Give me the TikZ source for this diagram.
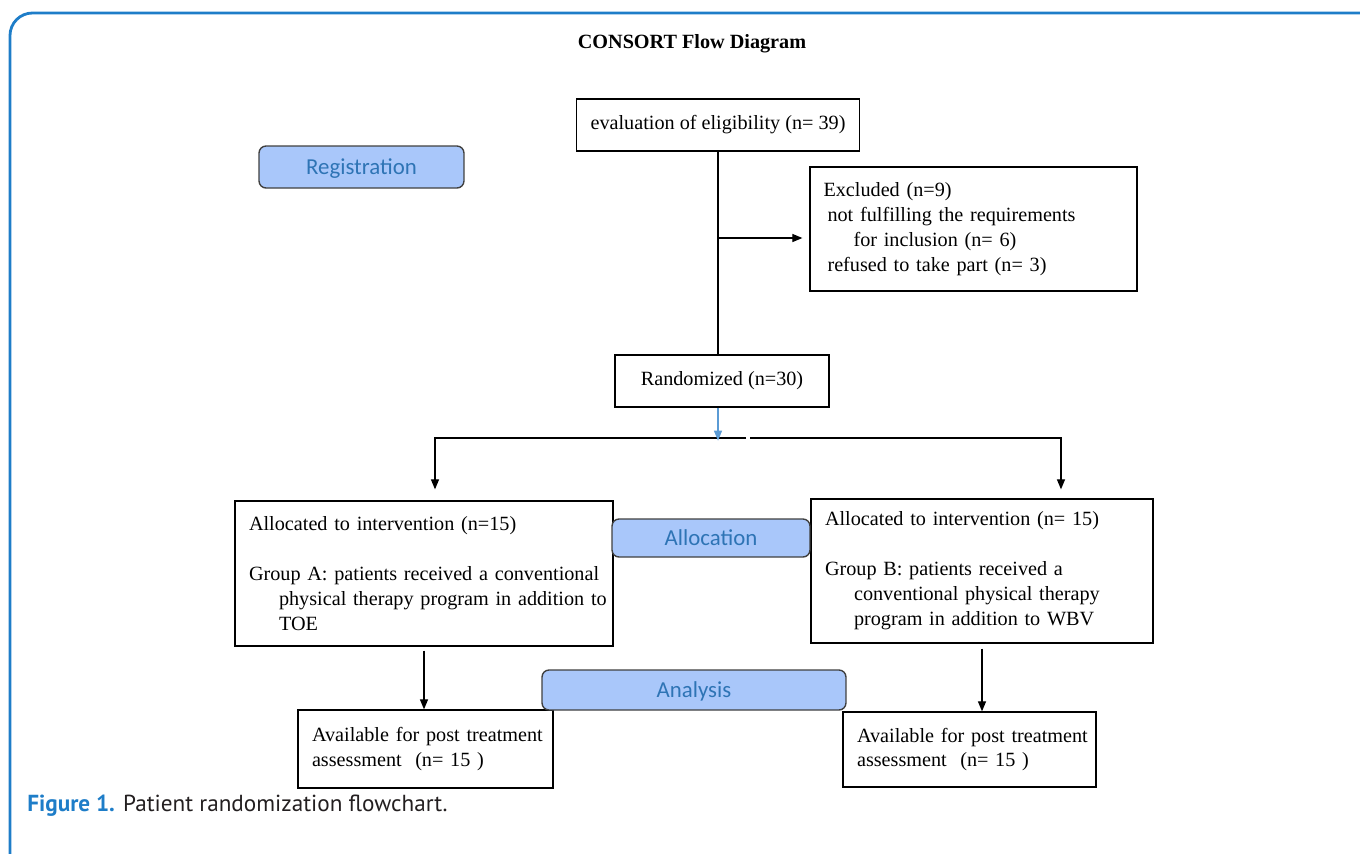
\documentclass[tikz,border=0pt]{standalone}
\usepackage{fontspec}
\setmainfont{Liberation Serif}
\newfontfamily\tagfont{Carlito}
\newfontfamily\capfont{PT Sans}
\usetikzlibrary{arrows.meta}
\definecolor{framecol}{RGB}{30,125,200}
\definecolor{tagfill}{RGB}{169,199,250}
\definecolor{tagtext}{RGB}{46,116,181}
\definecolor{tagedge}{RGB}{64,64,64}
\definecolor{arrowblue}{RGB}{91,155,213}
\definecolor{captext}{RGB}{35,31,32}
\begin{document}
\begin{tikzpicture}[x=0.02cm,y=-0.02cm,
    box/.style={draw=black,line width=0.75pt,inner sep=0pt,font=\fontsize{11.5}{14.2}\selectfont},
    tag/.style={draw=tagedge,fill=tagfill,line width=0.8pt,rounded corners=4pt,text depth=0pt,text=tagtext,font=\tagfont\fontsize{13}{15}\selectfont},
    >={Triangle[length=0.2cm,width=0.16cm]}]
    \useasboundingbox (0,0) rectangle (1360,853);
    \clip (0,0) rectangle (1360,853);
    \draw[framecol,line width=1.6pt,rounded corners=0.45cm] (10,13) rectangle (1400,890);
    \node[font=\bfseries\fontsize{11.5}{13}\selectfont] (title) at (692,44) {CONSORT Flow Diagram};
    % boxes
    \node[box,minimum width=5.66cm,minimum height=1.04cm] (eval) at (718,125) {evaluation of eligibility (n= 39)};
    \node[box,minimum width=6.54cm,minimum height=2.48cm,text width=6.0cm,align=left] (excl) at (973.5,229)
        {Excluded (n=9)\\ \hspace*{0.08cm}\mbox{not fulfilling the requirements}\\ \hspace*{0.6cm}\mbox{for inclusion (n= 6)}\\ \hspace*{0.08cm}\mbox{refused to take part (n= 3)}};
    \node[box,minimum width=4.28cm,minimum height=1.04cm] (rand) at (722,381) {Randomized (n=30)};
    \node[box,minimum width=7.56cm,minimum height=2.9cm,text width=7.0cm,align=left] (allocA) at (424,573.5)
        {\mbox{Allocated to intervention (n=15)}\\[14.2pt] \mbox{Group A: patients received a conventional}\\ \hspace*{0.6cm}\mbox{physical therapy program in addition to}\\ \hspace*{0.6cm}TOE};
    \node[box,minimum width=6.84cm,minimum height=2.88cm,text width=6.28cm,align=left] (allocB) at (982,571)
        {\mbox{Allocated to intervention (n= 15)}\\[14.2pt] \mbox{Group B: patients received a}\\ \hspace*{0.58cm}\mbox{conventional physical therapy}\\ \hspace*{0.58cm}\mbox{program in addition to WBV}};
    \node[box,minimum width=5.1cm,minimum height=1.56cm,text width=4.54cm,align=left] (postA) at (425.5,749)
        {\mbox{Available for post treatment}\\ \mbox{assessment\ \ (n= 15 )}};
    \node[box,minimum width=5.06cm,minimum height=1.5cm,text width=4.5cm,align=left] (postB) at (969.5,749.5)
        {\mbox{Available for post treatment}\\ \mbox{assessment\ \ (n= 15 )}};
    % connectors
    \coordinate (forkL) at (746,438);
    \coordinate (forkR) at (750,438);
    \draw[line width=0.7pt] (eval.south) -- (eval.south |- rand.north);
    \draw[line width=0.7pt,->,shorten >=0.14cm] (eval.south |- 0,238) -- (excl.west |- 0,238);
    \draw[line width=0.7pt,->,shorten >=0.22cm] (forkL) -| ([xshift=0.22cm]allocA.north);
    \draw[line width=0.7pt,->,shorten >=0.18cm] (forkR) -| ([xshift=1.58cm]allocB.north);
    \draw[arrowblue,line width=0.7pt,->] (eval.south |- rand.south) -- ++(0,33);
    \draw[line width=0.7pt,->,shorten <=0.08cm] (allocA.south) -- (allocA.south |- postA.north);
    \draw[line width=0.7pt,->,shorten <=0.1cm] (allocB.south) -- (allocB.south |- postB.north);
    % stage tags
    \node[tag,minimum width=4.1cm,minimum height=0.84cm] (reg) at (361.5,167) {Registration};
    \node[tag,minimum width=3.96cm,minimum height=0.76cm] (allocTag) at (711,538) {Allocation};
    \node[tag,minimum width=6.08cm,minimum height=0.8cm] (anaTag) at (694,690) {Analysis};
    \node[anchor=west,text=captext,inner sep=0pt,font=\capfont\fontsize{13.2}{15}\selectfont] (caption) at (27,806)
        {\textcolor{framecol}{\bfseries Figure 1.} Patient randomization flowchart.};
\end{tikzpicture}
\end{document}
